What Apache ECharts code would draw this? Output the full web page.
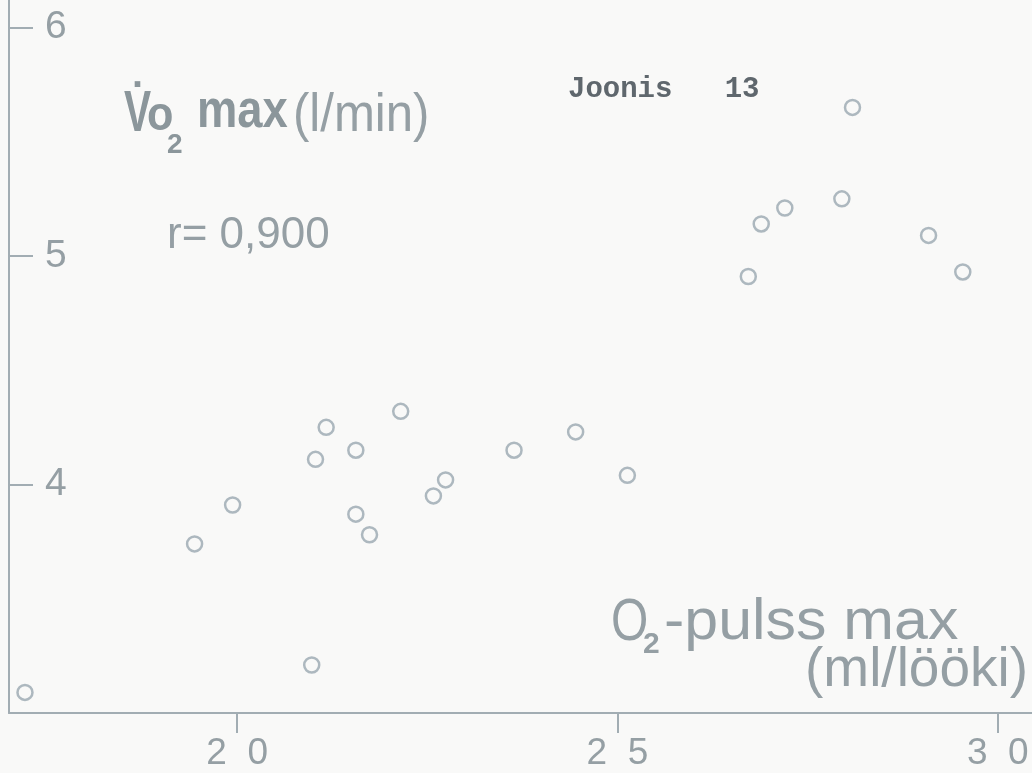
<!DOCTYPE html>
<html>
<head>
<meta charset="utf-8">
<script src="https://cdn.jsdelivr.net/npm/echarts@6/dist/echarts.min.js"></script>
<style>
html,body{margin:0;padding:0;background:#f9f9f8;}
#chart{width:1032px;height:773px;}
</style>
</head>
<body>
<div id="chart"></div>
<script>
// O2-pulss max (ml/lööki)
const pulseValues = [17.21, 20.98, 19.44, 19.94, 21.03, 21.17, 21.56, 21.56, 21.74, 22.15, 22.58,
                     22.74, 23.64, 24.45, 25.13, 26.72, 26.89, 27.20, 27.95, 28.09, 29.09, 29.54];
// VO2 max (l/min)
const vo2Values = [3.09, 3.21, 3.74, 3.91, 4.11, 4.25, 4.15, 3.87, 3.78, 4.32, 3.95,
                   4.02, 4.15, 4.23, 4.04, 4.91, 5.14, 5.21, 5.25, 5.65, 5.09, 4.93];
const xTicks = [20, 25, 30];
const yTicks = [4, 5, 6];

const ink = '#959fa4';
const inkDark = '#8b969b';
const inkLine = '#a2adb3';

const chart = echarts.init(document.getElementById('chart'));
chart.setOption({
  backgroundColor: '#f9f9f8',
  animation: false,
  grid: { left: 9, right: 0, top: 0, bottom: 60, containLabel: false, outerBoundsMode: 'none' },
  xAxis: {
    type: 'value', min: 17, max: 30.45,
    splitLine: { show: false },
    axisLine: { show: true, lineStyle: { color: inkLine, width: 2 } },
    axisTick: { show: true, inside: false, length: 20, customValues: xTicks, lineStyle: { color: inkLine, width: 2 } },
    axisLabel: {
      customValues: xTicks, margin: 22, fontSize: 37, color: ink,
      fontFamily: 'Liberation Sans',
      formatter: v => String(v).split('').join('  ')
    }
  },
  yAxis: {
    type: 'value', min: 3, max: 6.12,
    splitLine: { show: false },
    axisLine: { show: true, lineStyle: { color: inkLine, width: 2 } },
    axisTick: { show: true, inside: true, length: 24, customValues: yTicks, lineStyle: { color: inkLine, width: 2 } },
    axisLabel: {
      customValues: yTicks, inside: true, margin: 36, fontSize: 39, color: ink,
      fontFamily: 'Liberation Sans'
    }
  },
  series: [{
    type: 'scatter',
    symbol: 'circle',
    symbolSize: 15,
    itemStyle: { color: 'rgba(0,0,0,0)', borderColor: '#9aa8b0', borderWidth: 2.5 },
    data: pulseValues.map((x, i) => [x, vo2Values[i]])
  }],
  graphic: [
    { type: 'text', x: 568, y: 75, style: { text: 'Joonis   13', fontFamily: 'Liberation Mono', fontWeight: 'bold', fontSize: 29, fill: '#5f676d' } },
    // y axis title: V̇o₂ max(l/min)
    { type: 'text', x: 124, y: 86, scaleX: 0.7, style: { text: 'V\u0307', fontFamily: 'Liberation Sans', fontWeight: 'bold', fontSize: 58, fill: inkDark } },
    { type: 'text', x: 147, y: 93, scaleX: 0.9, style: { text: 'o', fontFamily: 'Liberation Sans', fontWeight: 'bold', fontSize: 48, fill: inkDark } },
    { type: 'text', x: 167, y: 131, style: { text: '2', fontFamily: 'Liberation Sans', fontWeight: 'bold', fontSize: 28, fill: inkDark } },
    { type: 'text', x: 197, y: 85, scaleX: 0.84, style: { text: 'max', fontFamily: 'Liberation Sans', fontWeight: 'bold', fontSize: 54, fill: inkDark } },
    { type: 'text', x: 293, y: 89, scaleX: 0.91, style: { text: '(l/min)', fontFamily: 'Liberation Sans', fontSize: 54, fill: ink } },
    // r value
    { type: 'text', x: 167, y: 214, style: { text: 'r= 0,900', fontFamily: 'Liberation Sans', fontSize: 44, fill: ink } },
    // x axis title: O₂-pulss max (ml/lööki)
    { type: 'text', x: 611, y: 593, scaleX: 0.8, style: { text: 'O', fontFamily: 'Liberation Sans', fontSize: 60, fill: ink } },
    { type: 'text', x: 643, y: 630, style: { text: '2', fontFamily: 'Liberation Sans', fontWeight: 'bold', fontSize: 30, fill: ink } },
    { type: 'text', x: 664, y: 594, scaleX: 1.05, style: { text: '-pulss max', fontFamily: 'Liberation Sans', fontSize: 58, fill: ink } },
    { type: 'text', x: 805, y: 643, style: { text: '(ml/lööki)', fontFamily: 'Liberation Sans', fontSize: 55, fill: ink } }
  ]
});
</script>
</body>
</html>
